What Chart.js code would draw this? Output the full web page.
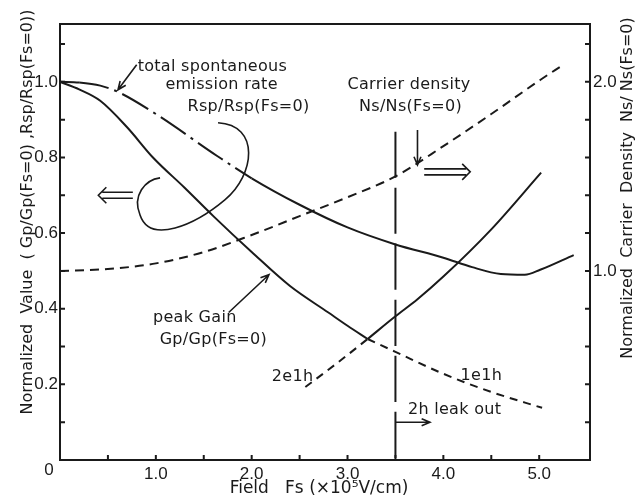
<!DOCTYPE html>
<html>
<head>
<meta charset="utf-8">
<script src="https://cdn.jsdelivr.net/npm/chart.js@4.4.0/dist/chart.umd.min.js"></script>
<style>
  html, body { margin: 0; padding: 0; background: #fff; }
</style>
</head>
<body>
<canvas id="myChart" width="637" height="500"></canvas>
<script>
// field Fs (x10^5 V/cm) vs normalized values
const gainFallX = [0, 0.2, 0.42, 0.7, 0.97, 1.3, 1.6, 2.0, 2.4, 2.8, 3.0, 3.21];
const gainFallY = [1.0, 0.98, 0.95, 0.88, 0.80, 0.72, 0.645, 0.55, 0.46, 0.39, 0.355, 0.32];
const gainRiseX = [3.21, 3.5, 3.73, 4.0, 4.5, 5.02];
const gainRiseY = [0.32, 0.38, 0.425, 0.485, 0.61, 0.76];
const gain1e1hX = [3.21, 3.5, 4.0, 4.5, 5.03];
const gain1e1hY = [0.32, 0.286, 0.228, 0.18, 0.138];
const gain2e1hX = [2.56, 2.9, 3.21];
const gain2e1hY = [0.193, 0.258, 0.32];
const rspX = [0, 0.2, 0.42, 0.6, 1.0, 1.64, 2.0, 2.5, 3.0, 3.5, 4.0, 4.3, 4.6, 4.85, 5.01, 5.36];
const rspY = [1.0, 0.998, 0.99, 0.974, 0.915, 0.804, 0.745, 0.675, 0.615, 0.57, 0.535, 0.51, 0.492, 0.49, 0.503, 0.542];
const carrierX = [0, 0.5, 1.0, 1.5, 2.0, 2.5, 3.0, 3.5, 4.0, 4.5, 5.01, 5.25];
const carrierY = [1.0, 1.01, 1.04, 1.10, 1.19, 1.29, 1.39, 1.50, 1.66, 1.83, 2.01, 2.09];
const leakX = [3.5, 3.5];
const leakY = [0.868, 0];

const xTickLabels = [1.0, 2.0, 3.0, 4.0, 5.0];
const leftTickLabels = [0.2, 0.4, 0.6, 0.8, 1.0];
const rightTickLabels = [1.0, 2.0];

const ink = "#1a1a1a";

function pts(xs, ys) {
  return xs.map((x, i) => ({x: x, y: ys[i]}));
}
function hasLabel(list, v) {
  return list.some(l => Math.abs(l - v) < 1e-6);
}

// text notes, placed in data units of the left axis
const notes = [
  {text: "total spontaneous", x: 0.81, y: 1.04},
  {text: "emission rate", x: 1.10, y: 0.992},
  {text: "Rsp/Rsp(Fs=0)", x: 1.33, y: 0.934},
  {text: "Carrier density", x: 3.0, y: 0.992},
  {text: "Ns/Ns(Fs=0)", x: 3.12, y: 0.934},
  {text: "peak Gain", x: 0.97, y: 0.376},
  {text: "Gp/Gp(Fs=0)", x: 1.04, y: 0.318},
  {text: "2e1h", x: 2.21, y: 0.22},
  {text: "1e1h", x: 4.18, y: 0.222},
  {text: "2h leak out", x: 3.63, y: 0.132}
];

const decor = {
  id: "decor",
  afterDatasetsDraw(chart) {
    const {ctx, chartArea: a, scales} = chart;
    const X = v => scales.x.getPixelForValue(v);
    const Y = v => scales.y.getPixelForValue(v);
    const Y1 = v => scales.y1.getPixelForValue(v);
    ctx.save();
    ctx.strokeStyle = ink;
    ctx.fillStyle = ink;
    ctx.lineWidth = 2;
    ctx.lineCap = "butt";

    // frame
    ctx.strokeRect(a.left, a.top, a.right - a.left, a.bottom - a.top);

    // inward tick marks
    ctx.beginPath();
    for (let v = 0.5; v < 5.5; v += 0.5) {
      ctx.moveTo(X(v), a.bottom); ctx.lineTo(X(v), a.bottom - 5);
    }
    for (let v = 0.1; v < 1.15; v += 0.1) {
      ctx.moveTo(a.left, Y(v)); ctx.lineTo(a.left + 5, Y(v));
    }
    for (let v = 0.2; v < 2.3; v += 0.2) {
      ctx.moveTo(a.right, Y1(v)); ctx.lineTo(a.right - 5, Y1(v));
    }
    ctx.stroke();

    // arrows
    function arrow(x1, y1, x2, y2) {
      const ang = Math.atan2(y2 - y1, x2 - x1);
      ctx.beginPath();
      ctx.moveTo(x1, y1); ctx.lineTo(x2, y2);
      ctx.moveTo(x2 - 9 * Math.cos(ang - 0.4), y2 - 9 * Math.sin(ang - 0.4));
      ctx.lineTo(x2, y2);
      ctx.lineTo(x2 - 9 * Math.cos(ang + 0.4), y2 - 9 * Math.sin(ang + 0.4));
      ctx.stroke();
    }
    function dblArrow(xTail, xTip, y) {
      const d = xTip > xTail ? 1 : -1;
      ctx.beginPath();
      ctx.moveTo(xTail, y - 3); ctx.lineTo(xTip - d * 4, y - 3);
      ctx.moveTo(xTail, y + 3); ctx.lineTo(xTip - d * 4, y + 3);
      ctx.moveTo(xTip - d * 8, y - 8); ctx.lineTo(xTip, y); ctx.lineTo(xTip - d * 8, y + 8);
      ctx.stroke();
    }
    ctx.lineWidth = 1.6;
    arrow(X(0.80), Y(1.045), X(0.605), Y(0.979));
    arrow(X(3.73), Y(0.873), X(3.73), Y(0.78));
    arrow(X(3.5), Y(0.10), X(3.86), Y(0.10));
    arrow(X(1.76), Y(0.39), X(2.18), Y(0.49));
    dblArrow(X(0.76), X(0.40), Y(0.70));
    dblArrow(X(3.80), X(4.28), Y(0.762));

    // loop around the two curves
    ctx.beginPath();
    ctx.moveTo(X(1.649), Y(0.892));
    ctx.bezierCurveTo(X(2.09), Y(0.886), X(2.035), Y(0.754), X(1.72), Y(0.688));
    ctx.bezierCurveTo(X(1.41), Y(0.622), X(0.94), Y(0.569), X(0.835), Y(0.648));
    ctx.bezierCurveTo(X(0.75), Y(0.70), X(0.89), Y(0.741), X(1.044), Y(0.746));
    ctx.stroke();

    // notes
    ctx.font = "16px 'DejaVu Sans'";
    if ("letterSpacing" in ctx) ctx.letterSpacing = "0.3px";
    ctx.textBaseline = "middle";
    ctx.textAlign = "left";
    notes.forEach(n => ctx.fillText(n.text, X(n.x), Y(n.y)));

    // corner zero
    ctx.font = "17px 'Liberation Sans'";
    if ("letterSpacing" in ctx) ctx.letterSpacing = "0px";
    ctx.textAlign = "center";
    ctx.fillText("0", a.left - 11, a.bottom + 10);

    // axis titles
    ctx.font = "17px 'DejaVu Sans'";
    ctx.textAlign = "center";
    ctx.fillText("Field   Fs (\u00d710\u2075V/cm)", 319, 489, 184);

    ctx.font = "16px 'DejaVu Sans'";
    ctx.save();
    ctx.translate(28, 212);
    ctx.rotate(-Math.PI / 2);
    ctx.fillText("Normalized  Value  ( Gp/Gp(Fs=0) ,Rsp/Rsp(Fs=0))", 0, 0, 405);
    ctx.restore();

    ctx.save();
    ctx.translate(628, 188);
    ctx.rotate(-Math.PI / 2);
    ctx.fillText("Normalized  Carrier  Density  Ns/ Ns(Fs=0)", 0, 0, 365);
    ctx.restore();

    ctx.restore();
  }
};

const solid = {borderColor: ink, borderWidth: 2, pointRadius: 0, fill: false, cubicInterpolationMode: "monotone"};

new Chart("myChart", {
  type: "line",
  data: {
    datasets: [
      Object.assign({data: pts(gainFallX, gainFallY), yAxisID: "y"}, solid),
      Object.assign({data: pts(gainRiseX, gainRiseY), yAxisID: "y"}, solid),
      Object.assign({data: pts(gain1e1hX, gain1e1hY), yAxisID: "y", borderDash: [8, 6]}, solid),
      Object.assign({data: pts(gain2e1hX, gain2e1hY), yAxisID: "y", borderDash: [8, 6]}, solid),
      Object.assign({
        data: pts(rspX, rspY), yAxisID: "y",
        segment: {
          borderDash: c => (c.p0.parsed.x >= 0.2 && c.p1.parsed.x <= 2.0) ? [30, 6, 3, 6] : undefined
        }
      }, solid),
      Object.assign({data: pts(carrierX, carrierY), yAxisID: "y1", borderDash: [9, 6]}, solid),
      Object.assign({data: pts(leakX, leakY), yAxisID: "y", borderDash: [46, 10], cubicInterpolationMode: "default"}, solid)
    ]
  },
  options: {
    responsive: false,
    animation: false,
    layout: {padding: {top: 24, left: 0, right: 0, bottom: 0}},
    plugins: {legend: {display: false}, tooltip: {enabled: false}},
    scales: {
      x: {
        type: "linear", min: 0, max: 5.53,
        grid: {display: false, drawTicks: false},
        border: {display: false},
        ticks: {
          stepSize: 0.5, maxTicksLimit: 40, autoSkip: false, maxRotation: 0, padding: 4,
          color: ink, font: {family: "Liberation Sans", size: 17},
          callback: v => hasLabel(xTickLabels, v) ? v.toFixed(1) : ""
        },
        afterFit: s => { s.height = 40; }
      },
      y: {
        position: "left", min: 0, max: 1.153,
        grid: {display: false, drawTicks: false},
        border: {display: false},
        ticks: {
          stepSize: 0.1, maxTicksLimit: 40, autoSkip: false, padding: 2,
          color: ink, font: {family: "Liberation Sans", size: 17},
          callback: v => hasLabel(leftTickLabels, v) ? v.toFixed(1) : ""
        },
        afterFit: s => { s.width = 60; }
      },
      y1: {
        position: "right", min: 0, max: 2.306,
        grid: {display: false, drawTicks: false},
        border: {display: false},
        ticks: {
          stepSize: 0.2, maxTicksLimit: 40, autoSkip: false, padding: 3,
          color: ink, font: {family: "Liberation Sans", size: 17},
          callback: v => hasLabel(rightTickLabels, v) ? v.toFixed(1) : ""
        },
        afterFit: s => { s.width = 47; }
      }
    }
  },
  plugins: [decor]
});
</script>
</body>
</html>
